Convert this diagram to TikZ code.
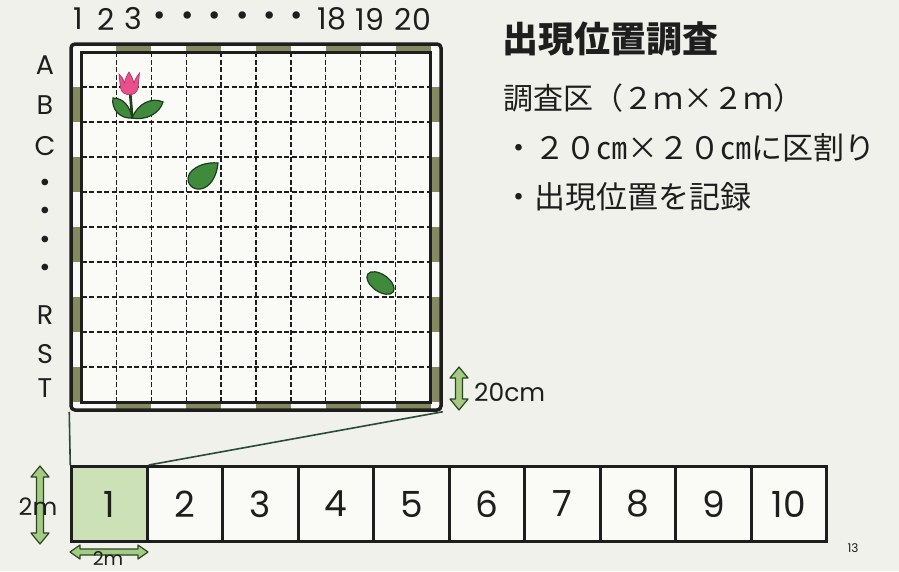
\documentclass[tikz,border=0pt]{standalone}
\usepackage{fontspec}
\setmainfont{Poppins}
\newfontfamily\jp{Noto Sans CJK JP}
\definecolor{paper}{RGB}{240,241,235}
\definecolor{sheet}{RGB}{250,250,247}
\definecolor{ink}{RGB}{30,30,30}
\definecolor{tape}{RGB}{132,137,94}
\definecolor{leafgreen}{RGB}{64,138,60}
\definecolor{leafline}{RGB}{30,60,30}
\definecolor{tulip}{RGB}{232,80,140}
\definecolor{arrowfill}{RGB}{165,203,130}
\definecolor{arrowline}{RGB}{40,70,38}
\definecolor{cellfill}{RGB}{205,225,183}
\definecolor{linkline}{RGB}{40,75,55}
\newcommand\fsz[1]{\fontsize{#1}{#1}\selectfont}
% vertical double arrow: x, top y, length
\newcommand\VArrowGreen[3]{%
  \filldraw[fatarrow,shift={(#1,#2)}] (0,0) -- (9,11) -- (3.5,11) -- (3.5,#3-11) -- (9,#3-11)
    -- (0,#3) -- (-9,#3-11) -- (-3.5,#3-11) -- (-3.5,11) -- (-9,11) -- cycle;}
% horizontal double arrow: left x, y, length
\newcommand\HArrowGreen[3]{%
  \filldraw[fatarrow,shift={(#1,#2)}] (0,0) -- (10,-7) -- (10,-3) -- (#3-10,-3) -- (#3-10,-7)
    -- (#3,0) -- (#3-10,7) -- (#3-10,3) -- (10,3) -- (10,7) -- cycle;}
\begin{document}
\begin{tikzpicture}[x=1pt,y=-1pt,
  lab/.style={text=ink,inner sep=0pt,font=\fsz{27}},
  colnum/.style={text=ink,inner sep=0pt,font=\fsz{30}},
  jptext/.style={text=ink,inner sep=0pt,anchor=west,font=\jp\fsz{31}},
  gridline/.style={ink,line width=1.3pt,dash pattern=on 5pt off 2.5pt},
  fatarrow/.style={fill=arrowfill,draw=arrowline,line width=1.2pt,line join=round},
  leaf/.style={fill=leafgreen,draw=leafline,line width=1.2pt},
  cell/.style={draw=ink,line width=3pt,minimum width=75.5pt,minimum height=75pt,
    inner sep=0pt,font=\fsz{36},text=ink,fill=sheet},
  link/.style={linkline,line width=1.6pt}]
\useasboundingbox (0,0) rectangle (899,571);
\fill[paper] (0,0) rectangle (899,571);

% quadrat sheet
\fill[sheet] (71,44) rectangle (441,410);
\foreach \k in {1,3,5,7,9}{
  \pgfmathsetmacro\xa{81.5+\k*34.9}
  \pgfmathsetmacro\ya{52+\k*35}
  \fill[tape] (\xa,44) rectangle (\xa+34.9,52);
  \fill[tape] (\xa,402) rectangle (\xa+34.9,410);
  \fill[tape] (71,\ya) rectangle (81.5,\ya+35);
  \fill[tape] (430.5,\ya) rectangle (441,\ya+35);
}
\foreach \i in {1,...,9}{
  \draw[gridline] (81.5+\i*34.9,52) -- (81.5+\i*34.9,402);
  \draw[gridline] (81.5,52+\i*35) -- (430.5,52+\i*35);
}
\draw[ink,line width=3pt] (81.5,52) rectangle (430.5,402);
\node[draw=ink,line width=3.5pt,rounded corners=4pt,minimum width=370pt,
  minimum height=366pt,inner sep=0pt] (frame) at (256,227) {};

% plants
\draw[leafline,line width=1.2pt,fill=leafgreen] (129.5,94) -- (131.5,118) -- (133,118) -- (131,94) -- cycle;
\fill[tulip,draw=tulip!70!black,line width=0.6pt] (119,74) -- (120.5,88) .. controls (122,97) and (137,97) .. (138,88)
  -- (139.5,73) .. controls (137,76) and (135,79) .. (134,83) .. controls (133,79) and (131,75) .. (129,72)
  .. controls (127,75) and (125,79) .. (124.5,83) .. controls (123.5,79) and (121.5,76) .. (119,74) -- cycle;
\draw[leaf] (132,118) .. controls (120,119) and (111,109) .. (113,98) .. controls (123,98) and (130,106) .. (132,118) -- cycle;
\draw[leaf] (132,118) .. controls (138,103) and (152,97) .. (163,102) .. controls (160,113) and (146,121) .. (132,118) -- cycle;
\draw[leaf] (218,163) .. controls (217,176) and (210,188) .. (200,189) .. controls (190,190) and (185,180) .. (190,173)
  .. controls (196,165) and (208,162) .. (218,163) -- cycle;
\draw[leaf,rotate around={-35:(380.5,283)}] (380.5,283) ellipse [x radius=15.5pt,y radius=8.5pt];

% row and column labels
\foreach \t/\x [count=\i] in {1/78,2/106,3/133,•/160,•/188,•/215,•/243,•/270,•/297,18/332,19/370,20/413}
  \node[colnum] (c\i) at (\x,19) {\t};
\foreach \t/\y [count=\i] in {A/65,B/105,C/146,•/185,•/213,•/242,•/270,R/315,S/354,T/388}
  \node[lab] (r\i) at (45,\y) {\t};

% headings
\node[jptext,font=\jp\bfseries\fsz{36}] (title) at (502,39) {出現位置調査};
\node[jptext,font=\jp\fsz{30}] (plot) at (503,98) {調査区（２ｍ×２ｍ）};
\node[jptext] (div) at (503,148) {・２０㎝×２０㎝に区割り};
\node[jptext] (rec) at (503,197) {・出現位置を記録};

% cell size
\VArrowGreen{459}{367}{43}
\node[text=ink,inner sep=0pt,anchor=west,font=\fsz{25}] (cm) at (474,392) {20cm};

% row of plots
\foreach \i in {1,...,10}
  \node[cell] (b\i) at (109.5+\i*75.5-75.5,504) {\i};
\node[cell,fill=cellfill] at (b1) {1};
\draw[link] (frame.south west) -- (b1.north west);
\draw[link] (frame.south east) -- (b1.north east);

% plot size
\VArrowGreen{40}{466}{78}
\node[text=ink,inner sep=0pt,font=\fsz{24}] (hm) at (38,507) {2m};
\HArrowGreen{70}{552}{78}
\node[text=ink,inner sep=0pt,font=\fsz{19},anchor=base,text depth=0pt] (wm) at (108,565) {2m};

\node[text=ink,inner sep=0pt,font=\fsz{12}] (page) at (853,548) {13};
\end{tikzpicture}
\end{document}
